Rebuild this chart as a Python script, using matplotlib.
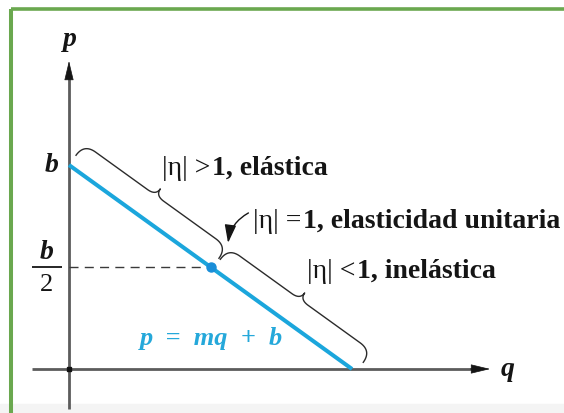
import numpy as np
import matplotlib
matplotlib.use("Agg")
import matplotlib.pyplot as plt
from matplotlib.lines import Line2D
from matplotlib.patches import Rectangle

# Linear demand p = m*q + b, in units where b = 1 and the q-intercept is 1
b_value = 1.0
q_intercept = 1.0
slope = -b_value / q_intercept
demand_q = np.array([0.0, q_intercept])
demand_p = slope * demand_q + b_value

# Point of unit elasticity: the midpoint of the demand line
unit_q = q_intercept / 2
unit_p = slope * unit_q + b_value

# Regions marked by braces (fractions along the demand line)
brace_spans = [(0.0, 0.505), (0.51, 1.015)]

axis_labels = ["p", "q"]
intercept_label = "b"
half_label = ("b", "2")
equation_label = "p  =  mq  +  b"
region_labels = [
    ("|η| >", "1, elástica"),
    ("|η| =", "1, elasticidad unitaria"),
    ("|η| <", "1, inelástica"),
]

BLUE = "#1ba6dc"
DOT_BLUE = "#1a8ed8"
AXIS_GRAY = "#5c5c5c"
INK = "#151515"
GREEN = "#6aa84f"
SERIF = "Liberation Serif"

fig = plt.figure(figsize=(5.64, 4.14), dpi=100)
ax = fig.add_axes([0, 0, 1, 1])
ax.set_xlim(-69 / 283, 495 / 283)
ax.set_ylim(-44 / 204, 370 / 204)
ax.axis("off")

# frame
fig.add_artist(Rectangle((0, 0), 1, 0.021, transform=fig.transFigure,
                         color="#f4f4f4", zorder=0))
fig.add_artist(Line2D([0.0195, 1.0], [0.977, 0.977], transform=fig.transFigure,
                      color=GREEN, lw=2.6, solid_capstyle="butt"))
fig.add_artist(Line2D([0.0195, 0.0195], [0.0, 0.977], transform=fig.transFigure,
                      color=GREEN, lw=2.9, solid_capstyle="butt"))

# coordinate axes with arrowheads
q_axis_start, q_axis_tip = -0.131, 1.488
p_axis_start, p_axis_tip = -0.196, 1.51
ax.plot([q_axis_start, q_axis_tip - 0.04], [0, 0], color=AXIS_GRAY, lw=2.0,
        solid_capstyle="butt", zorder=2)
ax.plot([0, 0], [p_axis_start, p_axis_tip - 0.05], color=AXIS_GRAY, lw=2.0,
        solid_capstyle="butt", zorder=2)
head = dict(arrowstyle="-|>,head_length=1.25,head_width=0.3", color=INK, lw=0.5,
            mutation_scale=10, shrinkA=0, shrinkB=0)
ax.annotate("", xy=(q_axis_tip, 0), xytext=(q_axis_tip - 0.07, 0), arrowprops=head)
ax.annotate("", xy=(0, p_axis_tip), xytext=(0, p_axis_tip - 0.09), arrowprops=head)
ax.plot([0], [0], "s", color="#111", ms=2.2, zorder=3)

# demand line, dashed guide and unit-elastic point
ax.plot(demand_q, demand_p, color=BLUE, lw=2.9, solid_capstyle="butt", zorder=4)
ax.plot([0, unit_q], [unit_p, unit_p], color="#3a3a3a", lw=1.0,
        dashes=(6.5, 4.5), zorder=3)
ax.plot([unit_q], [unit_p], "o", color=DOT_BLUE, ms=6.5, zorder=5)


def quad(p0, c, p2, n=24):
    t = np.linspace(0, 1, n)[:, None]
    p0, c, p2 = map(np.asarray, (p0, c, p2))
    return (1 - t) ** 2 * p0 + 2 * (1 - t) * t * c + t ** 2 * p2


def draw_brace(f0, f1, end_off=12, body_off=26, tip_off=34, hook=14, cusp=10):
    P0 = ax.transData.transform((demand_q[0], demand_p[0]))
    P1 = ax.transData.transform((demand_q[1], demand_p[1]))
    d = P1 - P0
    length = np.hypot(*d)
    t = d / length
    n = np.array([-t[1], t[0]])
    a0 = f0 * length
    L = (f1 - f0) * length
    m = L / 2
    pts = np.vstack([
        quad((0, end_off), (0, body_off), (hook, body_off)),
        quad((m - cusp, body_off), (m, body_off), (m, tip_off)),
        quad((m, tip_off), (m, body_off), (m + cusp, body_off)),
        quad((L - hook, body_off), (L, body_off), (L, end_off)),
    ])
    disp = P0 + (a0 + pts[:, :1]) * t + pts[:, 1:] * n
    data = ax.transData.inverted().transform(disp)
    ax.plot(data[:, 0], data[:, 1], color="#2b2b2b", lw=1.0, zorder=3)


for f0, f1 in brace_spans:
    draw_brace(f0, f1)

# axis and intercept labels
lab = dict(family=SERIF, fontsize=20, fontweight="bold", style="italic", color=INK)
ax.text(0.003, 1.62, axis_labels[0], ha="center", va="center", **lab)
ax.text(1.548, 0.0, axis_labels[1], ha="center", va="center", **lab)
ax.text(-0.06, b_value, intercept_label, ha="center", va="center", **lab)
ax.text(-0.08, unit_p + 0.075, half_label[0], ha="center", va="center", **lab)
ax.text(-0.08, unit_p - 0.083, half_label[1], ha="center", va="center",
        family=SERIF, fontsize=19, color=INK)
ax.plot([-0.13, -0.025], [unit_p, unit_p], color=INK, lw=1.3, solid_capstyle="butt")

ax.text(0.502, 0.1225, equation_label, ha="center", va="baseline", family=SERIF,
        fontsize=19, style="italic", fontweight="bold", color="#25a8da")

# region labels: plain relation followed by the bold description
region_pos = [(0.329, 0.956), (0.650, 0.696), (0.841, 0.451)]
for (plain, bold), (x, y) in zip(region_labels, region_pos):
    t1 = ax.text(x, y, plain, ha="left", va="baseline", family=SERIF,
                 fontsize=20, color=INK)
    ax.annotate(bold, xy=(1, 0), xycoords=t1, xytext=(1.0, 0),
                textcoords="offset points", ha="left", va="bottom",
                family=SERIF, fontsize=20, fontweight="bold", color=INK)

ax.annotate("", xy=(0.562, 0.618), xytext=(0.634, 0.765),
            arrowprops=dict(arrowstyle="-|>,head_length=1.1,head_width=0.35",
                            color=INK, lw=1.0, mutation_scale=10,
                            connectionstyle="arc3,rad=0.25",
                            shrinkA=0, shrinkB=0))

fig.savefig("out.png", dpi=100)
